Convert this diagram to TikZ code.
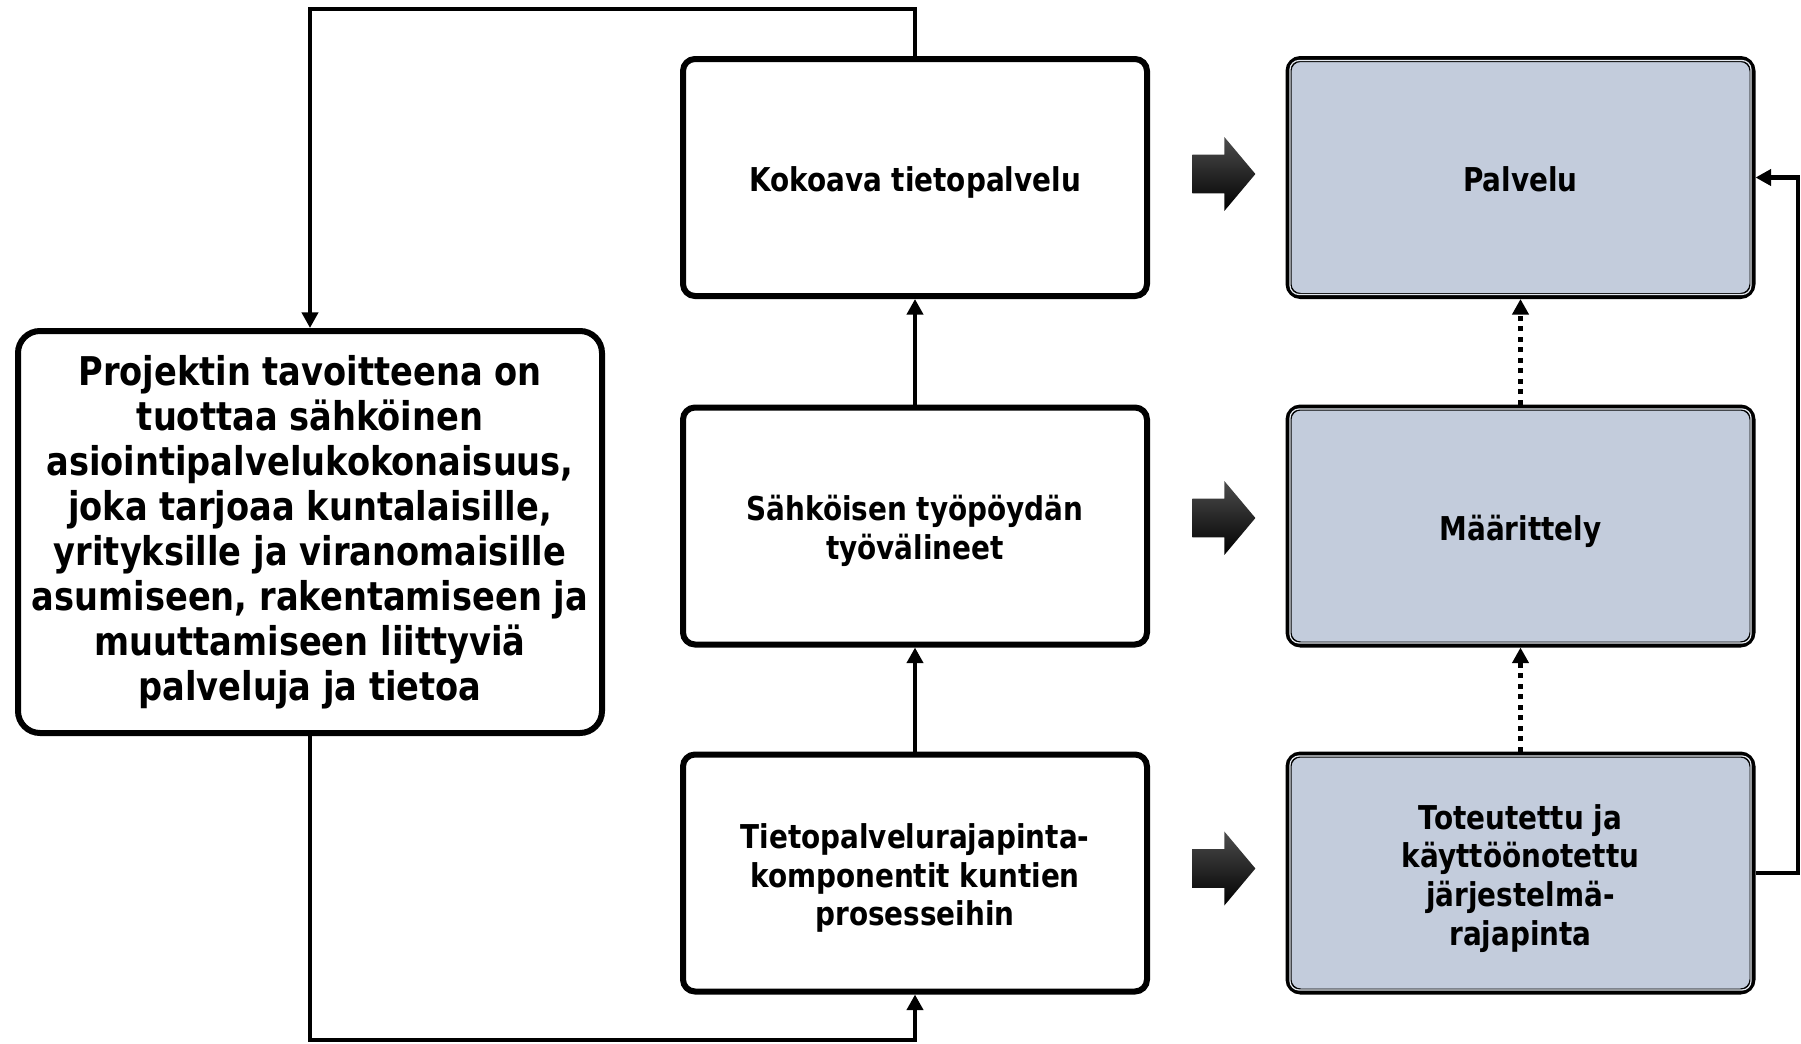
\documentclass[tikz,border=0pt]{standalone}
\usepackage{fontspec}
\setmainfont{DejaVu Sans}[FakeStretch=0.85]
\usetikzlibrary{calc,arrows.meta,shapes.arrows}
\definecolor{tilafill}{RGB}{195,204,220}
\newcommand{\ylarivi}{\rule{0pt}{18.2pt}}
\newcommand{\alarivi}{\rule[-4pt]{0pt}{0pt}}
\tikzset{
  pohja/.style={draw=black, line width=3pt, fill=white, align=center, inner sep=0pt},
  laatikko/.style={pohja, rounded corners=6pt, minimum width=232pt, minimum height=118.5pt,
    font=\fontsize{16.4}{19.3}\selectfont\bfseries},
  tila/.style={laatikko, fill=tilafill},
  tavoite/.style={pohja, rounded corners=11pt, minimum width=292pt,
    minimum height=201pt, font=\fontsize{19.8}{22.5}\selectfont\bfseries},
  yhteys/.style={line width=2.1pt, -{Triangle[length=7.8pt,width=8pt]}},
  pisteet/.style={yhteys, line width=2.5pt, dash pattern=on 2.5pt off 2.75pt},
  nuoli/.style={single arrow, draw=none, top color=black!70, bottom color=black,
    minimum height=31.5pt, inner xsep=0pt, inner ysep=9.5pt, text width=0pt,
    single arrow head extend=8.75pt, single arrow tip angle=100, xshift=-1pt}
}

\begin{document}
\begin{tikzpicture}[x=0.5pt, y=-0.5pt]
			%%%%% START %%%%%
			\useasboundingbox (0, 0) rectangle (1801, 1044);
			
			\node[tavoite] (goal) at (310, 532) {Projektin tavoitteena on\\tuottaa sähköinen\\asiointipalvelukokonaisuus,\\joka tarjoaa kuntalaisille,\\yrityksille ja viranomaisille\\asumiseen, rakentamiseen ja\\muuttamiseen liittyviä\\palveluja ja tietoa};
			
			\node[laatikko] (kokoava) at (915, 177.5) {\ylarivi Kokoava tietopalvelu\alarivi};
			\node[laatikko] (tyopoyta) at (915, 526) {\ylarivi Sähköisen työpöydän\\työvälineet\alarivi};
			\node[laatikko] (rajapinta) at (915, 873) {\ylarivi Tietopalvelurajapinta-\\komponentit kuntien\\prosesseihin\alarivi};
			
			\node[tila] (palvelu) at (1520.5, 177.5) {\ylarivi Palvelu\alarivi};
			\node[tila] (maarittely) at (1520.5, 526) {\ylarivi Määrittely\alarivi};
			\node[tila] (toteutus) at (1520.5, 873) {\ylarivi Toteutettu ja\\käyttöönotettu\\järjestelmä-\\rajapinta\alarivi};
			
			\foreach \n in {palvelu, maarittely, toteutus}
				\draw[white!55!tilafill, line width=0.6pt, rounded corners=4.5pt] ($(\n.south west)+(4.5, -4.5)$) rectangle ($(\n.north east)+(-4.5, 4.5)$);
			
			\node[nuoli, yshift=1.75pt] (n1) at ($(kokoava.east)!0.5!(palvelu.west)$) {};
			\node[nuoli, yshift=4pt] (n2) at ($(tyopoyta.east)!0.5!(maarittely.west)$) {};
			\node[nuoli, yshift=2.25pt] (n3) at ($(rajapinta.east)!0.5!(toteutus.west)$) {};
			
			\draw[yhteys] (tyopoyta.north) -- (kokoava.south);
			\draw[yhteys] (rajapinta.north) -- (tyopoyta.south);
			\draw[pisteet] (maarittely.north) -- (palvelu.south);
			\draw[pisteet] (toteutus.north) -- (maarittely.south);
			
			\coordinate (ylä) at (0, 9);
			\coordinate (ala) at (0, 1040);
			\coordinate (oikea) at (1798, 0);
			\draw[yhteys] (kokoava.north) -- (kokoava.north |- ylä) -| (goal.north);
			\draw[yhteys] (goal.south) -- (goal.south |- ala) -| (rajapinta.south);
			\draw[yhteys] (toteutus.east) -- (toteutus.east -| oikea) -- (palvelu.east -| oikea) -- (palvelu.east);
			
			%%%%% END %%%%%
\end{tikzpicture}
\end{document}
